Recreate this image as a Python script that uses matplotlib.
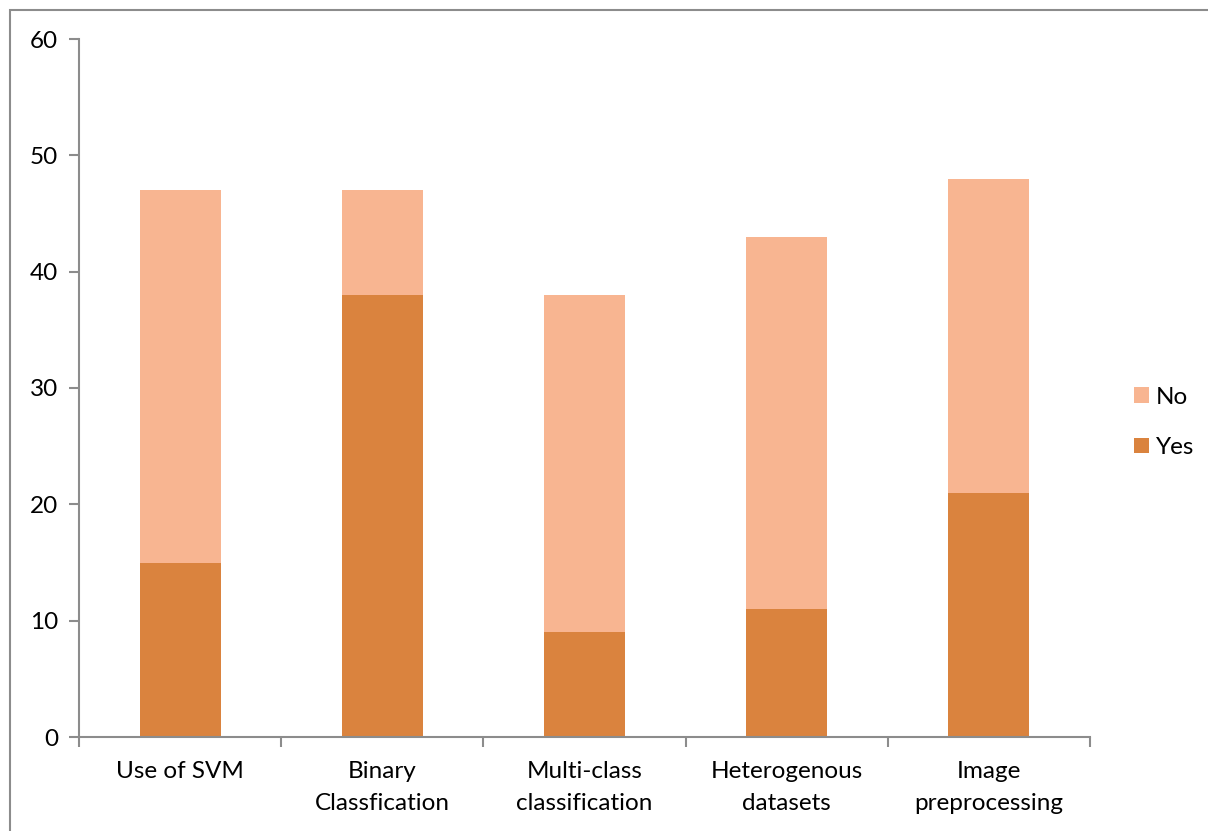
import numpy as np
import matplotlib.pyplot as plt
from matplotlib.patches import Rectangle

# Survey answers per topic
categories = ["Use of SVM", "Binary\nClassfication", "Multi-class\nclassification",
              "Heterogenous\ndatasets", "Image\npreprocessing"]
yes = [15, 38, 9, 11, 21]
no = [32, 9, 29, 32, 27]

plt.rcParams['font.family'] = ['Lato', 'DejaVu Sans']

fig = plt.figure(figsize=(12.08, 8.31), dpi=100)
ax = fig.add_axes([79/1208, 1-737/831, (1090-79)/1208, (737-39)/831])

# outer frame of the chart area
fig.patches.append(Rectangle((10/1208, -0.1), 1.2, 1-10/831+0.1, transform=fig.transFigure,
                             fill=False, edgecolor='#8c8c8c', linewidth=1.5))

x = np.arange(len(categories))
ax.bar(x, yes, width=0.4, color='#DA833E', label='Yes')
ax.bar(x, no, width=0.4, bottom=yes, color='#F8B591', label='No')

ax.set_xlim(-0.5, len(categories)-0.5)
ax.set_ylim(0, 60)
ax.set_yticks(range(0, 61, 10))
ax.set_xticks(x)
ax.set_xticklabels(categories, linespacing=1.65)
ax.set_xticks(np.arange(-0.5, len(categories)), minor=True)
ax.tick_params(axis='x', which='major', length=0, pad=17, labelsize=17.5)
ax.tick_params(axis='x', which='minor', length=7, color='#8c8c8c', width=1.5)
ax.tick_params(axis='y', length=7, color='#8c8c8c', width=1.5, labelsize=17.5, pad=8)

for s in ['top', 'right']:
    ax.spines[s].set_visible(False)
for s in ['left', 'bottom']:
    ax.spines[s].set_color('#8c8c8c')
    ax.spines[s].set_linewidth(1.5)

handles, labels = ax.get_legend_handles_labels()
ax.legend(handles[::-1], labels[::-1], loc='center left', bbox_to_anchor=(1.022, 0.451),
          frameon=False, fontsize=17.5, handlelength=0.6, handleheight=0.6,
          handletextpad=0.3, labelspacing=1.2)

plt.savefig("out.png", dpi=100)
